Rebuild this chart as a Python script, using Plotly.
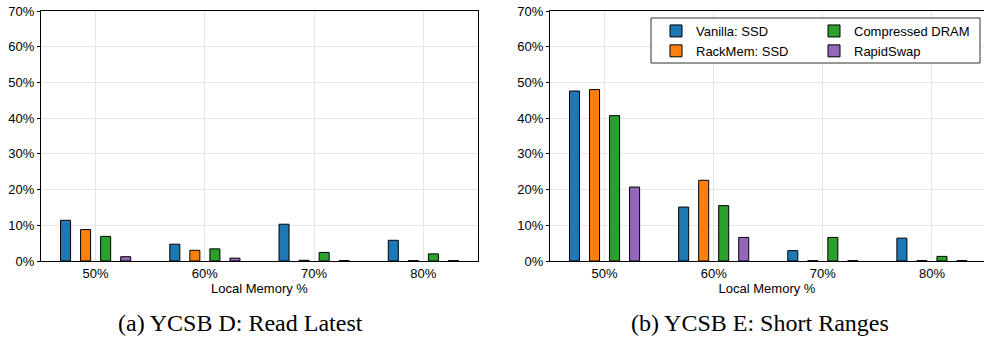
import plotly.graph_objects as go

categories = ["50%", "60%", "70%", "80%"]
series_names = ["Vanilla: SSD", "RackMem: SSD", "Compressed DRAM", "RapidSwap"]
colors = ["#1f77b4", "#ff7f0e", "#2ca02c", "#9467bd"]

# YCSB D: Read Latest (values in %)
d_vanilla = [11.4, 4.7, 10.3, 5.8]
d_rackmem = [8.8, 3.0, 0.2, 0.1]
d_compressed = [6.9, 3.4, 2.4, 2.0]
d_rapidswap = [1.2, 0.8, 0.1, 0.1]

# YCSB E: Short Ranges (values in %)
e_vanilla = [47.6, 15.1, 2.9, 6.4]
e_rackmem = [48.0, 22.6, 0.1, 0.1]
e_compressed = [40.7, 15.5, 6.6, 1.3]
e_rapidswap = [20.7, 6.6, 0.1, 0.1]

y_ticks = [0, 10, 20, 30, 40, 50, 60, 70]
y_labels = ["0%", "10%", "20%", "30%", "40%", "50%", "60%", "70%"]
captions = ["(a) YCSB D: Read Latest", "(b) YCSB E: Short Ranges"]

W, H = 984, 347
fig = go.Figure()

d_series = [d_vanilla, d_rackmem, d_compressed, d_rapidswap]
e_series = [e_vanilla, e_rackmem, e_compressed, e_rapidswap]
legend_rank = [1, 3, 2, 4]
legend_ref = ["legend", "legend", "legend2", "legend2"]

for i, (name, vals) in enumerate(zip(series_names, d_series)):
    fig.add_trace(go.Bar(x=categories, y=vals, name=name, marker_color=colors[i],
                         marker_line_color="black", marker_line_width=1,
                         xaxis="x", yaxis="y", showlegend=False, offsetgroup=str(i)))
for i, (name, vals) in enumerate(zip(series_names, e_series)):
    fig.add_trace(go.Bar(x=categories, y=vals, name=name, marker_color=colors[i],
                         marker_line_color="black", marker_line_width=1,
                         xaxis="x2", yaxis="y2", showlegend=True,
                         legend=legend_ref[i], legendrank=legend_rank[i], offsetgroup=str(i)))

font = dict(family="Liberation Sans, Arial, sans-serif", size=13, color="black")
ydom = [1 - 261 / H, 1 - 11 / H]

axis_common = dict(showline=True, linecolor="black", linewidth=1, mirror=True,
                   showgrid=True, gridcolor="#e6e6e6", gridwidth=1,
                   tickcolor="black", tickfont=font,
                   zeroline=False, automargin=False)
x_common = dict(ticks="", **axis_common)
y_common = dict(ticks="outside", ticklen=3, **axis_common)

cap_font = dict(family="Liberation Serif, Times New Roman, serif", size=24, color="black")

fig.update_layout(
    width=W, height=H,
    margin=dict(l=0, r=0, t=0, b=0, autoexpand=False),
    paper_bgcolor="white", plot_bgcolor="white",
    barmode="group", bargap=0.266, bargroupgap=0.5,
    font=font,
    xaxis=dict(domain=[41 / W, 478 / W], anchor="y", range=[-0.5, 3.5],
               title=dict(text="Local Memory %", font=font, standoff=2), **x_common),
    yaxis=dict(domain=ydom, anchor="x", range=[0, 70], tickvals=y_ticks,
               ticktext=y_labels, **y_common),
    xaxis2=dict(domain=[550 / W, 1.0], anchor="y2", range=[-0.5, 3.477],
                title=dict(text="Local Memory %", font=font, standoff=2), **x_common),
    yaxis2=dict(domain=ydom, anchor="x2", range=[0, 70], tickvals=y_ticks,
                ticktext=y_labels, **y_common),
    legend=dict(x=656 / W, y=1 - 16 / H, xanchor="left", yanchor="top",
                bgcolor="rgba(0,0,0,0)", borderwidth=0, font=font,
                tracegroupgap=0, itemwidth=30),
    legend2=dict(x=814 / W, y=1 - 16 / H, xanchor="left", yanchor="top",
                 bgcolor="rgba(0,0,0,0)", borderwidth=0, font=font,
                 tracegroupgap=0, itemwidth=30),
    shapes=[dict(type="rect", xref="paper", yref="paper",
                 x0=651 / W, x1=980 / W, y0=1 - 63 / H, y1=1 - 18 / H,
                 line=dict(color="#333333", width=1), fillcolor="white", layer="above")],
    annotations=[
        dict(text=captions[0], x=240 / W, y=1 - 323 / H, xref="paper", yref="paper",
             showarrow=False, xanchor="center", yanchor="middle", font=cap_font),
        dict(text=captions[1], x=760 / W, y=1 - 323 / H, xref="paper", yref="paper",
             showarrow=False, xanchor="center", yanchor="middle", font=cap_font),
    ],
)

fig.write_html("out.html")
